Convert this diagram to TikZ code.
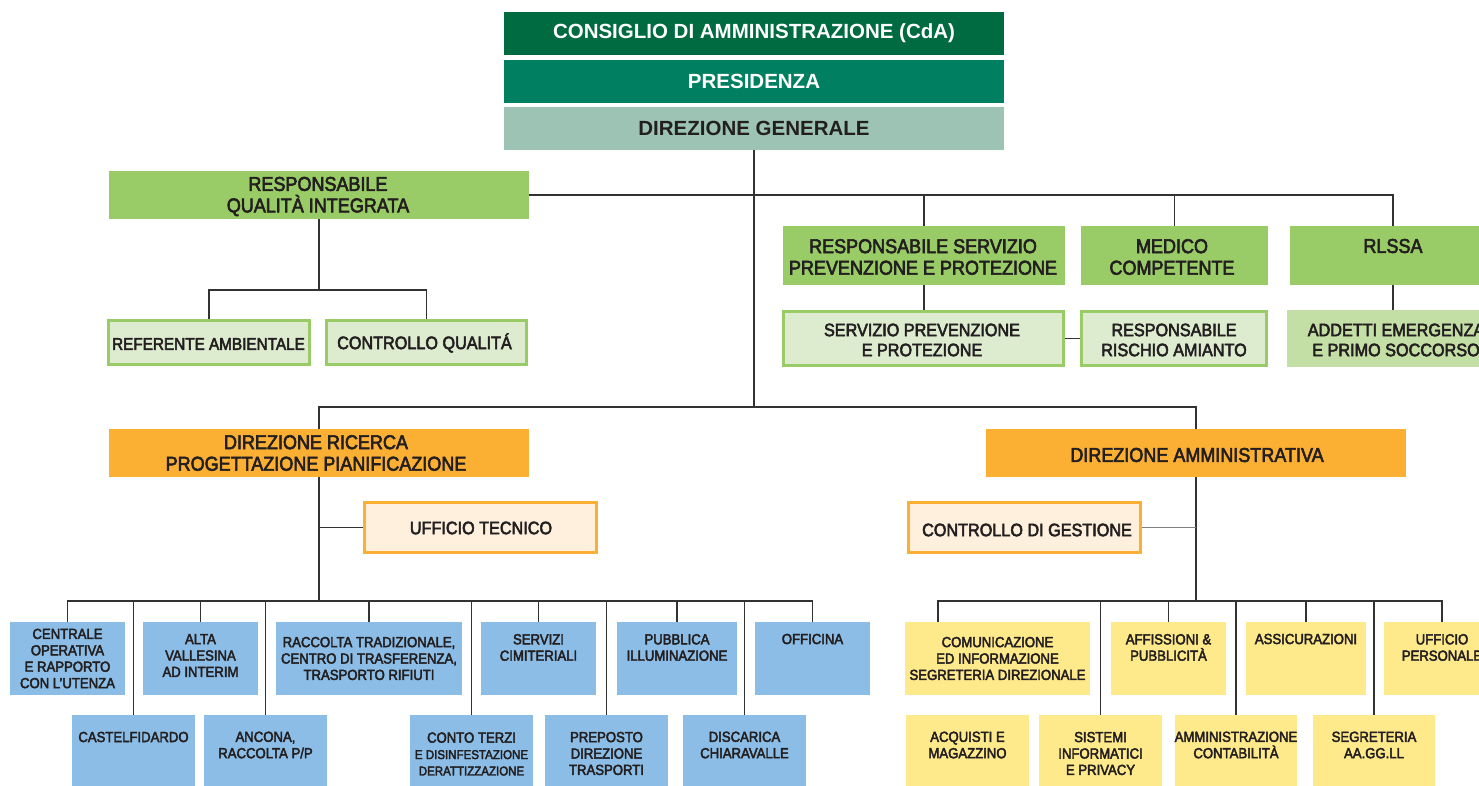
\documentclass[tikz,border=0pt]{standalone}
\usepackage{fontspec}
\setmainfont{Liberation Sans}
\newfontfamily\cnd{Liberation Sans}[FakeStretch=0.9,FakeBold=3]
\usetikzlibrary{backgrounds}
\definecolor{cdac}{RGB}{0,106,65}
\definecolor{presc}{RGB}{0,128,96}
\definecolor{dgc}{RGB}{156,195,179}
\definecolor{grc}{RGB}{153,204,102}
\definecolor{lgc}{RGB}{221,235,207}
\definecolor{addc}{RGB}{196,223,166}
\definecolor{orgc}{RGB}{251,176,52}
\definecolor{loc}{RGB}{254,240,221}
\definecolor{bluc}{RGB}{139,189,230}
\definecolor{yelc}{RGB}{254,233,139}
\definecolor{dark}{RGB}{35,31,32}
\definecolor{linec}{RGB}{50,50,50}
\tikzset{
  box/.style={rectangle, inner sep=0pt, outer sep=0pt},
  lgbox/.style={fill=lgc, draw=grc, line width=3pt},
  lobox/.style={fill=loc, draw=orgc, line width=3pt},
  hdrtxt/.style={font=\fontsize{20.5}{24}\selectfont\bfseries, inner sep=0pt},
  midtxt/.style={font=\cnd\fontsize{20}{21.5}\selectfont, align=center, text=dark, inner sep=0pt},
  sectxt/.style={font=\cnd\fontsize{18}{20}\selectfont, align=center, text=dark, inner sep=0pt},
  smtxt/.style={font=\cnd\fontsize{14.6}{16.4}\selectfont, align=center, text=dark, inner sep=0pt},
  conn/.style={draw=linec, line width=1.3pt},
}
\newcommand\bx[6]{\node[box,#2,minimum width={#5-#3},minimum height={#6-#4}] (#1) at ({(#3+#5)/2},{(#4+#6)/2}) {};}
\newcommand\bxb[6]{\node[box,#2,minimum width={#5-#3-3},minimum height={#6-#4-3}] (#1) at ({(#3+#5)/2},{(#4+#6)/2}) {};}
\newcommand\tx[5]{\node[#2] (#1) at (#3,#4) {#5};}
\begin{document}
\begin{tikzpicture}[x=1pt,y=-1pt]
\useasboundingbox (0,0) rectangle (1479,786);
\clip (0,0) rectangle (1479,786);
% top
\bx{cda}{fill=cdac}{504}{12}{1004}{55}
\tx{cdat}{hdrtxt,text=white}{754}{33.5}{CONSIGLIO DI AMMINISTRAZIONE (CdA)}
\bx{pres}{fill=presc}{504}{60}{1004}{103}
\tx{prest}{hdrtxt,text=white}{754}{81.5}{PRESIDENZA}
\bx{dg}{fill=dgc}{504}{107}{1004}{150}
\tx{dgt}{hdrtxt,text=dark}{754}{128.5}{DIREZIONE GENERALE}
% green level
\bx{rqi}{fill=grc}{109}{171}{529}{219}
\tx{rqit}{midtxt}{318}{196.5}{RESPONSABILE\\QUALITÀ INTEGRATA}
\bx{rspp}{fill=grc}{783}{226}{1065}{285}
\tx{rsppt}{midtxt}{923}{257}{RESPONSABILE SERVIZIO\\PREVENZIONE E PROTEZIONE}
\bx{med}{fill=grc}{1081}{226}{1268}{285}
\tx{medt}{midtxt}{1172}{257}{MEDICO\\COMPETENTE}
\bx{rlssa}{fill=grc}{1290}{226}{1496}{285}
\tx{rlssat}{midtxt}{1393}{246}{RLSSA}
\bxb{ref}{lgbox}{107}{319}{311}{366}
\tx{reft}{sectxt,font=\cnd\fontsize{17}{20}\selectfont}{208.5}{344}{REFERENTE AMBIENTALE}
\bxb{cq}{lgbox}{325}{319}{528}{366}
\tx{cqt}{sectxt}{424.5}{343}{CONTROLLO QUALITÁ}
\bxb{spp}{lgbox}{782}{310}{1065}{367}
\tx{sppt}{sectxt}{922}{340}{SERVIZIO PREVENZIONE\\E PROTEZIONE}
\bxb{rra}{lgbox}{1080}{310}{1268}{367}
\tx{rrat}{sectxt}{1174}{340}{RESPONSABILE\\RISCHIO AMIANTO}
\bx{add}{fill=addc}{1287}{310}{1500}{367}
\tx{addt}{sectxt}{1396}{340}{ADDETTI EMERGENZA\\E PRIMO SOCCORSO}
% orange level
\bx{dr}{fill=orgc}{109}{429}{529}{477}
\tx{drt}{midtxt}{316}{453}{DIREZIONE RICERCA\\PROGETTAZIONE PIANIFICAZIONE}
\bx{da}{fill=orgc}{986}{429}{1406}{477}
\tx{dat}{midtxt}{1197}{455}{DIREZIONE AMMINISTRATIVA}
\bxb{ut}{lobox}{363}{501}{598}{554}
\tx{utt}{sectxt}{481}{528}{UFFICIO TECNICO}
\bxb{cg}{lobox}{907}{501}{1142}{554}
\tx{cgt}{sectxt}{1027}{530}{CONTROLLO DI GESTIONE}
% blue row 1
\bx{b1}{fill=bluc}{10}{622}{125}{695}
\tx{b1t}{smtxt}{67.5}{658.5}{CENTRALE\\OPERATIVA\\E RAPPORTO\\CON L’UTENZA}
\bx{b2}{fill=bluc}{143}{622}{258}{695}
\tx{b2t}{smtxt}{200.5}{655.5}{ALTA\\VALLESINA\\AD INTERIM}
\bx{b3}{fill=bluc}{276}{622}{462}{695}
\tx{b3t}{smtxt}{369}{658.5}{RACCOLTA TRADIZIONALE,\\CENTRO DI TRASFERENZA,\\TRASPORTO RIFIUTI}
\bx{b4}{fill=bluc}{481}{622}{596}{695}
\tx{b4t}{smtxt}{538.5}{647.5}{SERVIZI\\CIMITERIALI}
\bx{b5}{fill=bluc}{617}{622}{737}{695}
\tx{b5t}{smtxt}{677}{647.5}{PUBBLICA\\ILLUMINAZIONE}
\bx{b6}{fill=bluc}{755}{622}{870}{695}
\tx{b6t}{smtxt}{812.5}{639}{OFFICINA}
% blue row 2
\bx{c1}{fill=bluc}{72}{715}{195}{786}
\tx{c1t}{smtxt}{133.5}{737}{CASTELFIDARDO}
\bx{c2}{fill=bluc}{204}{715}{327}{786}
\tx{c2t}{smtxt}{265.5}{745}{ANCONA,\\RACCOLTA P/P}
\bx{c3}{fill=bluc}{410}{715}{533}{786}
\tx{c3t}{smtxt}{471.5}{754}{CONTO TERZI\\{\fontsize{12.8}{16}\selectfont E DISINFESTAZIONE}\\{\fontsize{12.8}{16}\selectfont DERATTIZZAZIONE}}
\bx{c4}{fill=bluc}{545}{715}{668}{786}
\tx{c4t}{smtxt}{606.5}{753.5}{PREPOSTO\\DIREZIONE\\TRASPORTI}
\bx{c5}{fill=bluc}{683}{715}{806}{786}
\tx{c5t}{smtxt}{744.5}{745}{DISCARICA\\CHIARAVALLE}
% yellow row 1
\bx{y1}{fill=yelc}{905}{622}{1090}{695}
\tx{y1t}{smtxt}{997.5}{658.5}{COMUNICAZIONE\\ED INFORMAZIONE\\SEGRETERIA DIREZIONALE}
\bx{y2}{fill=yelc}{1111}{622}{1226}{695}
\tx{y2t}{smtxt}{1168.5}{647.5}{AFFISSIONI \&\\PUBBLICITÀ}
\bx{y3}{fill=yelc}{1246}{622}{1366}{695}
\tx{y3t}{smtxt}{1306}{639}{ASSICURAZIONI}
\bx{y4}{fill=yelc}{1384}{622}{1500}{695}
\tx{y4t}{smtxt}{1442}{647.5}{UFFICIO\\PERSONALE}
% yellow row 2
\bx{z1}{fill=yelc}{906}{715}{1029}{786}
\tx{z1t}{smtxt}{967.5}{745}{ACQUISTI E\\MAGAZZINO}
\bx{z2}{fill=yelc}{1039}{715}{1162}{786}
\tx{z2t}{smtxt}{1100.5}{753.5}{SISTEMI\\INFORMATICI\\E PRIVACY}
\bx{z3}{fill=yelc}{1175}{715}{1297}{786}
\tx{z3t}{smtxt}{1236}{745}{AMMINISTRAZIONE\\CONTABILITÀ}
\bx{z4}{fill=yelc}{1313}{715}{1435}{786}
\tx{z4t}{smtxt}{1374}{745}{SEGRETERIA\\AA.GG.LL}
% connectors
\coordinate (bus1) at (754,407);
\coordinate (bus2) at (0,601);
\coordinate (bq) at (318,290);
\coordinate (comd) at (938,622);
\begin{pgfonlayer}{background}
\draw[conn] (dg.south) -- (bus1);
\draw[conn] (dr.north) -- (dr.north |- bus1) -- (da.north |- bus1) -- (da.north);
\draw[conn] (rqi.east) -- (rqi.east -| rlssa.north) -- (rlssa.north);
\draw[conn] (rspp.north) -- (rspp.north |- rqi.east);
\draw[conn] (med.north) -- (med.north |- rqi.east);
\draw[conn] (rqi.south) -- (rqi.south |- bq);
\draw[conn] (ref.north) -- (ref.north |- bq) -- (cq.north |- bq) -- (cq.north);
\draw[conn] (rspp.south) -- (rspp.south |- spp.north);
\draw[conn] (spp.east) -- (rra.west);
\draw[conn] (rlssa.south) -- (rlssa.south |- add.north);
\draw[conn] (dr.south) -- (dr.south |- bus2);
\draw[conn] (ut.west) -- (ut.west -| dr.south);
\draw[conn] (da.south) -- (da.south |- bus2);
\draw[conn,draw=gray] (cg.east) -- (cg.east -| da.south);
\draw[conn] (b1.north) -- (b1.north |- bus2) -- (b6.north |- bus2) -- (b6.north);
\foreach \n in {b2,b3,b4,b5,c1,c2,c3,c4,c5,y2,y3,z2,z3,z4}
  \draw[conn] (\n.north) -- (\n.north |- bus2);
\draw[conn] (comd) -- (comd |- bus2) -- (y4.north |- bus2) -- (y4.north);
\end{pgfonlayer}
\end{tikzpicture}
\end{document}
